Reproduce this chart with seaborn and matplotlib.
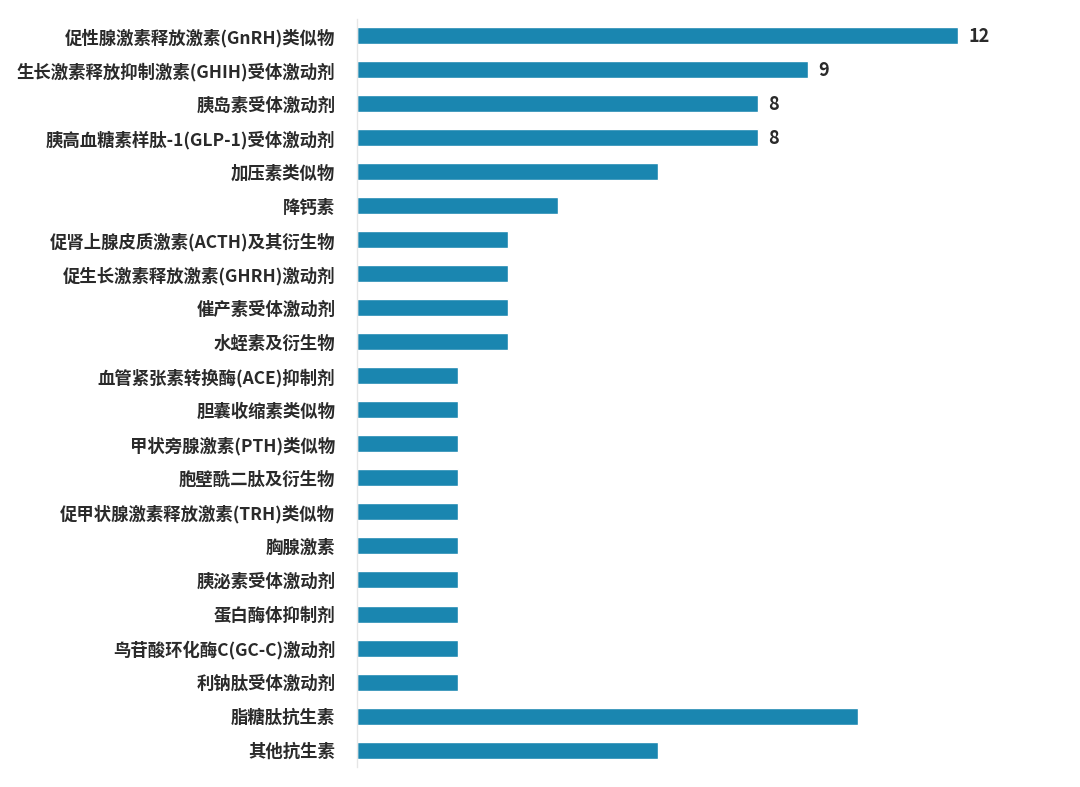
import pandas as pd
import numpy as np
import matplotlib
matplotlib.use('Agg')
import matplotlib.pyplot as plt
import seaborn as sns

# данные с картинки
categories = [
    '促性腺激素释放激素(GnRH)类似物',
    '生长激素释放抑制激素(GHIH)受体激动剂',
    '胰岛素受体激动剂',
    '胰高血糖素样肽-1(GLP-1)受体激动剂',
    '加压素类似物',
    '降钙素',
    '促肾上腺皮质激素(ACTH)及其衍生物',
    '促生长激素释放激素(GHRH)激动剂',
    '催产素受体激动剂',
    '水蛭素及衍生物',
    '血管紧张素转换酶(ACE)抑制剂',
    '胆囊收缩素类似物',
    '甲状旁腺激素(PTH)类似物',
    '胞壁酰二肽及衍生物',
    '促甲状腺激素释放激素(TRH)类似物',
    '胸腺激素',
    '胰泌素受体激动剂',
    '蛋白酶体抑制剂',
    '鸟苷酸环化酶C(GC-C)激动剂',
    '利钠肽受体激动剂',
    '脂糖肽抗生素',
    '其他抗生素',
]
counts = [12, 9, 8, 8, 6, 4, 3, 3, 3, 3, 2, 2, 2, 2, 2, 2, 2, 2, 2, 2, 10, 6]
shown_labels = [12, 9, 8, 8]  # подписи есть только у первых четырёх

df = pd.DataFrame({'cat': categories, 'n': counts})

sns.set_theme(style='white')
plt.rcParams['font.family'] = ['Noto Sans CJK SC', 'DejaVu Sans']

fig = plt.figure(figsize=(10.8, 7.87), dpi=100)
ax = fig.add_axes([0.331, 0.0254, 0.602, 0.9505])

sns.barplot(data=df, x='n', y='cat', color='#1a86b0', saturation=1,
            width=0.5, ax=ax, orient='h')

# подписи значений
for i, v in enumerate(shown_labels):
    ax.text(v + 0.22, i + 0.03, str(v), va='center', ha='left',
            fontsize=13, fontweight='bold', color='#2a2a2a')

ax.set_xlim(0, 13)
ax.set_ylim(len(categories) - 0.5, -0.5)
ax.set_xlabel('')
ax.set_ylabel('')
ax.set_xticks([])
ax.tick_params(axis='y', length=0, pad=16)
for lbl in ax.get_yticklabels():
    lbl.set_fontsize(12.5)
    lbl.set_fontweight('bold')
    lbl.set_color('#2a2a2a')

for s in ['top', 'right', 'bottom']:
    ax.spines[s].set_visible(False)
ax.spines['left'].set_color('#e6e6e6')
ax.spines['left'].set_linewidth(1)

fig.savefig('out.png', dpi=100)
